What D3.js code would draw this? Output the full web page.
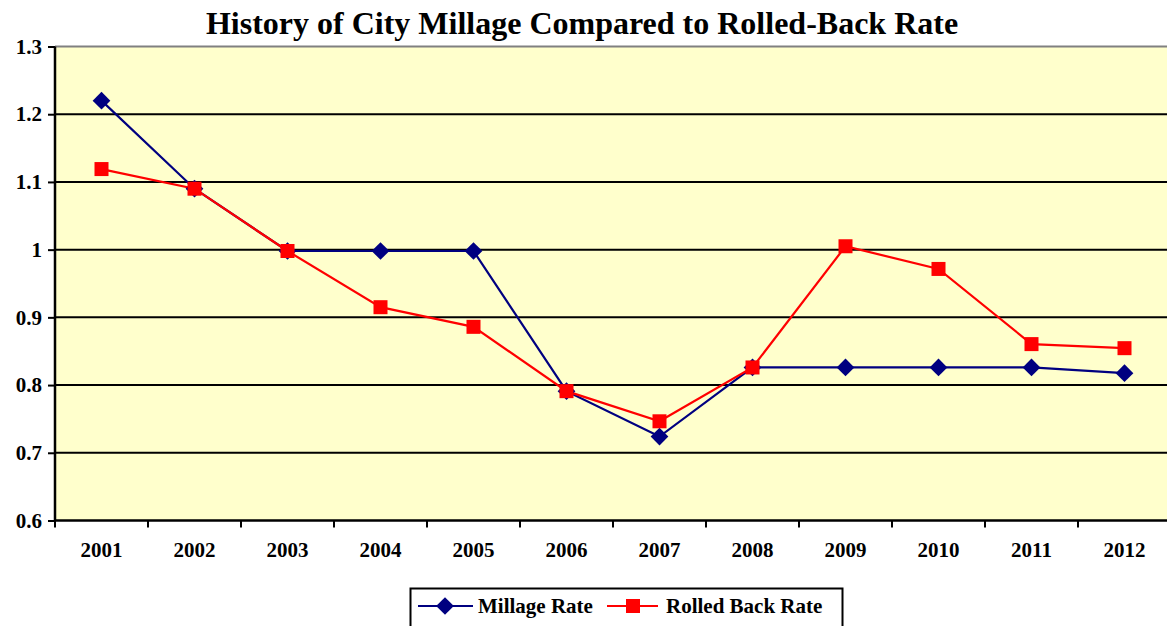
<!DOCTYPE html>
<html><head><meta charset="utf-8">
<script src="https://cdn.jsdelivr.net/npm/d3@7"></script>
<style>
body{margin:0;background:#fff;}
svg{display:block;font-family:"Liberation Serif","Times New Roman",serif;}
</style></head>
<body><svg id="c" width="1167" height="626"></svg>
<script>
const years = ["2001","2002","2003","2004","2005","2006","2007","2008","2009","2010","2011","2012"];
const millageRate = [1.22,1.09,0.998,0.998,0.998,0.791,0.724,0.826,0.826,0.826,0.826,0.8175];
const rolledBackRate = [1.119,1.09,0.998,0.915,0.886,0.791,0.7465,0.826,1.005,0.9715,0.8605,0.8545];
const yTicks = [0.6,0.7,0.8,0.9,1,1.1,1.2,1.3];
const title = "History of City Millage Compared to Rolled-Back Rate";

const svg = d3.select("#c");
const L = 55, T = 46.5, B = 520.5, W = 93*12;
const x = d3.scaleBand().domain(years).range([L, L+W]);
const y = d3.scaleLinear().domain([0.6,1.3]).range([B, T]);

svg.append("rect").attr("x",L).attr("y",T).attr("width",W).attr("height",B-T).attr("fill","#FFFFCC");
svg.append("line").attr("x1",L).attr("x2",L+W).attr("y1",T).attr("y2",T).attr("stroke","#808080").attr("stroke-width",2);

// gridlines
svg.append("g").selectAll("line").data(yTicks.filter(d=>d>0.6 && d<1.3)).join("line")
  .attr("x1",L).attr("x2",L+W).attr("y1",d=>y(d)).attr("y2",d=>y(d))
  .attr("stroke","#000").attr("stroke-width",2);

// y axis
const ya = svg.append("g").attr("transform",`translate(${L},0)`)
  .call(d3.axisLeft(y).tickValues(yTicks).tickFormat(d=>String(d)).tickSize(7).tickPadding(6));
ya.attr("font-size",null).attr("font-family",null);
ya.select(".domain").attr("stroke","#000").attr("stroke-width",2.5).attr("d",`M0,${T}V${B}`);
ya.selectAll(".tick line").attr("stroke","#000").attr("stroke-width",2);
ya.selectAll("text").style("font-size","21px").style("font-weight","bold").style("font-family","Liberation Serif").attr("fill","#000");

// x axis
const xa = svg.append("g").attr("transform",`translate(0,${B})`)
  .call(d3.axisBottom(x).tickSize(0).tickPadding(22));
xa.attr("font-size",null).attr("font-family",null);
xa.select(".domain").attr("stroke","#000").attr("stroke-width",2.5).attr("d",`M${L},0H${L+W}`);
xa.selectAll("text").style("font-size","21px").style("font-weight","bold").style("font-family","Liberation Serif").attr("fill","#000");
svg.append("g").selectAll("line").data(d3.range(13)).join("line")
  .attr("x1",i=>L+i*x.step()).attr("x2",i=>L+i*x.step()).attr("y1",B).attr("y2",B+7)
  .attr("stroke","#000").attr("stroke-width",2);

const cx = d=>x(d)+x.bandwidth()/2;
const line = d3.line().x(d=>cx(d[0])).y(d=>y(d[1]));
const mData = years.map((d,i)=>[d,millageRate[i]]);
const rData = years.map((d,i)=>[d,rolledBackRate[i]]);

svg.append("path").datum(mData).attr("d",line).attr("fill","none").attr("stroke","#000080").attr("stroke-width",2.2);
svg.append("path").datum(rData).attr("d",line).attr("fill","none").attr("stroke","#FF0000").attr("stroke-width",2.2);

const diamond = d3.symbol().type(d3.symbolDiamond2).size(200);
svg.append("g").selectAll("path").data(mData).join("path")
  .attr("transform",d=>`translate(${cx(d[0])},${y(d[1])})`).attr("d",diamond).attr("fill","#000080");
svg.append("g").selectAll("rect").data(rData).join("rect")
  .attr("x",d=>cx(d[0])-7).attr("y",d=>y(d[1])-7).attr("width",14).attr("height",14).attr("fill","#FF0000");

// title
svg.append("text").attr("x",582).attr("y",34).attr("text-anchor","middle")
  .style("font-size","32px").style("font-weight","bold").text(title);

// legend
const lg = svg.append("g");
lg.append("rect").attr("x",410.5).attr("y",588.5).attr("width",432).attr("height",45).attr("fill","#fff").attr("stroke","#000").attr("stroke-width",2);
lg.append("line").attr("x1",418).attr("x2",473).attr("y1",606).attr("y2",606).attr("stroke","#000080").attr("stroke-width",2.2);
lg.append("path").attr("transform","translate(445,606)").attr("d",diamond).attr("fill","#000080");
lg.append("text").attr("x",478).attr("y",613).style("font-size","21px").style("font-weight","bold").text("Millage Rate");
lg.append("line").attr("x1",607).attr("x2",658).attr("y1",606).attr("y2",606).attr("stroke","#FF0000").attr("stroke-width",2.2);
lg.append("rect").attr("x",626).attr("y",599).attr("width",14).attr("height",14).attr("fill","#FF0000");
lg.append("text").attr("x",666).attr("y",613).style("font-size","21px").style("font-weight","bold").text("Rolled Back Rate");
</script></body></html>
